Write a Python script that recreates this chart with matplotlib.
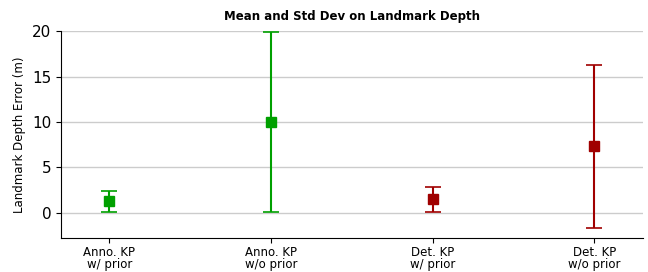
import matplotlib
matplotlib.use("Agg")
import matplotlib.pyplot as plt

categories = ["Anno. KP\nw/ prior", "Anno. KP\nw/o prior", "Det. KP\nw/ prior", "Det. KP\nw/o prior"]
means = [1.3, 10.0, 1.5, 7.35]
stds = [1.15, 9.9, 1.4, 8.95]
colors = ["#00a000", "#00a000", "#a00000", "#a00000"]

fig = plt.figure(figsize=(6.48, 2.72), dpi=100)
ax = fig.add_axes([0.094, 0.125, 0.898, 0.761])
for i, (m, s, c) in enumerate(zip(means, stds, colors)):
    ax.errorbar(i, m, yerr=s, fmt="s", color=c, ecolor=c, markersize=6.5,
                capsize=6, elinewidth=1.5, capthick=1.2, zorder=3)
ax.set_xlim(-0.3, 3.3)
ax.set_ylim(-2.75, 20)
ax.set_yticks([0, 5, 10, 15, 20])
ax.set_xticks(range(len(categories)))
ax.set_xticklabels(categories, fontsize=8.5, linespacing=0.95)
ax.tick_params(axis="x", pad=2)
ax.tick_params(axis="y", labelsize=11)
ax.yaxis.grid(True, color="#cccccc", linewidth=1)
ax.set_axisbelow(True)
ax.spines["top"].set_visible(False)
ax.spines["right"].set_visible(False)
ax.set_ylabel("Landmark Depth Error (m)", fontsize=8.5)
ax.set_title("Mean and Std Dev on Landmark Depth", fontsize=8.5, fontweight="bold", pad=8)
fig.savefig("out.png", dpi=100)
